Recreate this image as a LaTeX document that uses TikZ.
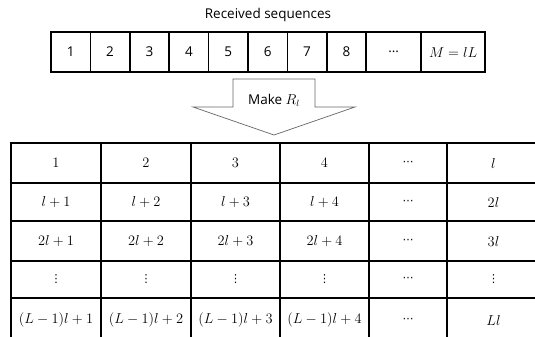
\documentclass[tikz,border=0pt]{standalone}
\usepackage[no-math]{fontspec}
\setmainfont{Open Sans}
\newfontfamily\dotsfont{DejaVu Sans}
\usetikzlibrary{positioning}
\newcommand{\vdts}{{\dotsfont\fontsize{11}{13}\selectfont ⋮}}
\newcommand{\cdts}{{\dotsfont\fontsize{11}{13}\selectfont ⋯}}
\tikzset{
  seqcell/.style={rectangle, draw=black, line width=1.6pt, minimum width=#1, minimum height=40pt,
                  inner sep=0pt, outer sep=0pt, font=\fontsize{13.5}{16}\selectfont},
  seqcell/.default={39.4pt},
  tabcell/.style={rectangle, draw=black, line width=1.6pt, minimum height=#1, inner sep=0pt,
                  outer sep=0pt, font=\fontsize{15}{18}\selectfont},
  tabcell/.default={40pt},
  bigarrow/.style={draw=black!60, line width=0.7pt, fill=white},
}
\begin{document}
\begin{tikzpicture}[x=1pt, y=-1pt]
\useasboundingbox (0,0) rectangle (535,337);
\clip (0,0) rectangle (535,337);
% received sequences
\node[font=\fontsize{13.5}{16}\selectfont] (title) at (268,15) {Received sequences};
\node[seqcell] (s1) at (70.7,52) {1};
\foreach \i [count=\j] in {2,...,8}
  \node[seqcell, right=0pt of s\j] (s\i) {\i};
\node[seqcell=55pt, right=0pt of s8] (s9) {\ldots};
\node[seqcell=64pt, right=0pt of s9] (s10) {$M = lL$};
% arrow
\draw[bigarrow] (233,79) -- (315,79) -- (315,107) -- (355,107) -- (274,135)
  -- (193,107) -- (233,107) -- cycle;
\node[font=\fontsize{13.5}{16}\selectfont] (make) at (274,100) {Make $R_l$};
% table R_l
\foreach \r/\y/\h/\pa/\pb/\pc/\pd/\pe/\pf in {
  1/163/40pt/$1$/$2$/$3$/$4$/\cdts/$l$,
  2/202/38pt/$l+1$/$l+2$/$l+3$/$l+4$/\cdts/$2l$,
  3/241/40pt/$2l+1$/$2l+2$/$2l+3$/$2l+4$/\cdts/$3l$,
  4/279.5/37pt/\vdts/\vdts/\vdts/\vdts/\cdts/\vdts,
  5/320/44pt/$(L-1)l+1$/$(L-1)l+2$/$(L-1)l+3$/$(L-1)l+4$/\cdts/$Ll$}
{
  \node[tabcell=\h, minimum width=90pt] (t\r-1) at (56,\y) {\pa};
  \node[tabcell=\h, minimum width=90pt, right=0pt of t\r-1] (t\r-2) {\pb};
  \node[tabcell=\h, minimum width=89pt, right=0pt of t\r-2] (t\r-3) {\pc};
  \node[tabcell=\h, minimum width=89pt, right=0pt of t\r-3] (t\r-4) {\pd};
  \node[tabcell=\h, minimum width=78pt, right=0pt of t\r-4] (t\r-5) {\pe};
  \node[tabcell=\h, minimum width=93pt, right=0pt of t\r-5] (t\r-6) {\pf};
}
\end{tikzpicture}
\end{document}
